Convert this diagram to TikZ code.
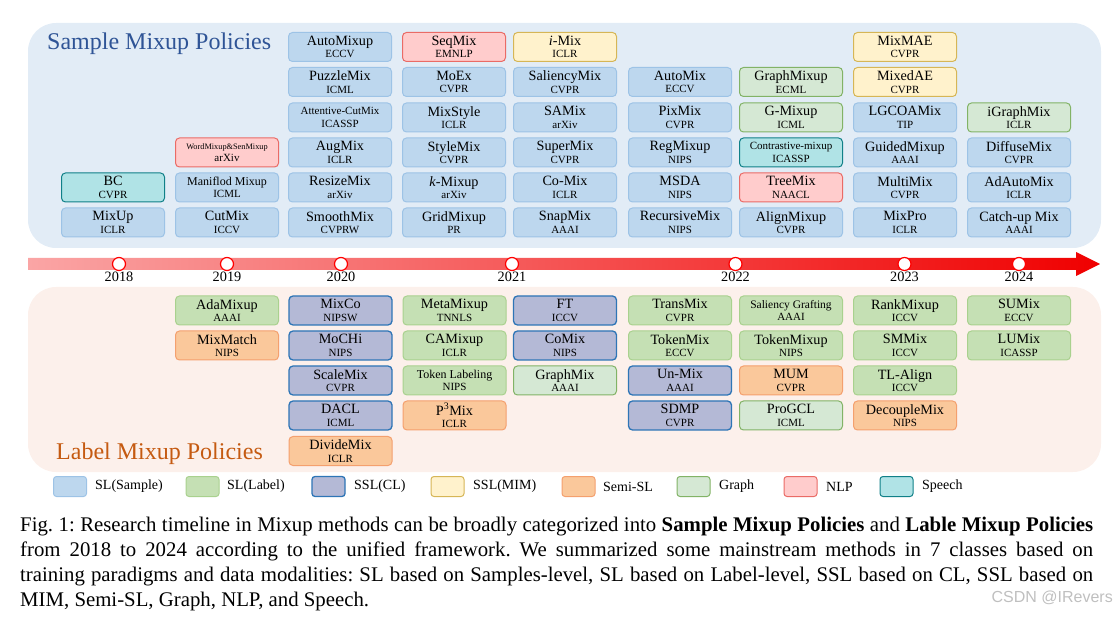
\documentclass[tikz,border=0pt]{standalone}
\usepackage{fontspec}
\setmainfont{Liberation Serif}
\newfontfamily\markfont{Liberation Sans}
\usetikzlibrary{positioning}

% colours of the classes
\definecolor{samplefill}{RGB}{189,215,238}
\definecolor{sampledraw}{RGB}{157,195,230}
\definecolor{labelfill}{RGB}{197,224,180}
\definecolor{labeldraw}{RGB}{169,209,142}
\definecolor{clfill}{RGB}{180,185,214}
\definecolor{cldraw}{RGB}{46,117,182}
\definecolor{mimfill}{RGB}{255,242,204}
\definecolor{mimdraw}{RGB}{214,182,86}
\definecolor{semifill}{RGB}{250,200,155}
\definecolor{semidraw}{RGB}{244,160,110}
\definecolor{graphfill}{RGB}{213,232,212}
\definecolor{graphdraw}{RGB}{130,179,102}
\definecolor{nlpfill}{RGB}{255,204,204}
\definecolor{nlpdraw}{RGB}{234,107,102}
\definecolor{speechfill}{RGB}{176,227,230}
\definecolor{speechdraw}{RGB}{16,128,136}
% panels and titles
\definecolor{toppanel}{RGB}{226,236,246}
\definecolor{botpanel}{RGB}{252,240,235}
\definecolor{toptitle}{RGB}{47,84,150}
\definecolor{bottitle}{RGB}{197,90,17}
\definecolor{barleft}{RGB}{250,165,165}
\definecolor{barright}{RGB}{240,0,0}

\newcommand{\namefont}{\fontsize{14.2}{12.6}\selectfont}
\newcommand{\smallname}{\fontsize{11.5}{12.6}\selectfont}
\newcommand{\venuefont}{\fontsize{11}{12.6}\selectfont}
\newcommand{\capfont}{\fontsize{20.8}{24.8}\selectfont\frenchspacing\hyphenpenalty10000\relax}
\newcommand{\mixnode}[6]{\node[#1] (#2) at (#3,#4) {#5\\{\venuefont #6}};}

\tikzset{
  method/.style={rounded corners=4pt, line width=1pt, minimum width=103pt,
    minimum height=29pt, inner sep=0pt, align=center, font=\namefont},
  sample/.style={method, fill=samplefill, draw=sampledraw},
  slabel/.style={method, fill=labelfill, draw=labeldraw},
  sslcl/.style={method, fill=clfill, draw=cldraw, line width=1.3pt},
  sslmim/.style={method, fill=mimfill, draw=mimdraw},
  semi/.style={method, fill=semifill, draw=semidraw},
  graph/.style={method, fill=graphfill, draw=graphdraw},
  nlp/.style={method, fill=nlpfill, draw=nlpdraw},
  speech/.style={method, fill=speechfill, draw=speechdraw},
  yeardot/.style={circle, draw=red, fill=white, line width=1.2pt,
    minimum size=13pt, inner sep=0pt, label distance=3pt},
  yeartext/.style={font=\fontsize{14.3}{14}\selectfont, inner sep=1pt},
  swatch/.style={minimum width=33pt, minimum height=20pt, inner sep=0pt,
    rounded corners=3pt},
  legendtext/.style={font=\fontsize{14}{14}\selectfont, inner sep=0pt},
  caption/.style={text width=1073pt, align=justify, inner sep=0pt,
    font=\capfont}
}

\begin{document}
\begin{tikzpicture}[x=1pt, y=-1pt]
  \useasboundingbox (0,0) rectangle (1114,617);

  % Draw the two panels
  \fill[toppanel, rounded corners=28pt] (28,23) rectangle (1101,248);
  \fill[botpanel, rounded corners=28pt] (28,287) rectangle (1101,472);

  % Panel titles
  \node[anchor=base west, inner sep=0pt, text=toptitle,
    font=\fontsize{24}{24}\selectfont] (toptitle) at (47,49.5) {Sample Mixup Policies};
  \node[anchor=base west, inner sep=0pt, text=bottitle,
    font=\fontsize{24}{24}\selectfont] (bottitle) at (56,460) {Label Mixup Policies};

  % Sample mixup policies, 2018
  \mixnode{speech}{BC}{113}{187.5}{BC}{CVPR}
  \mixnode{sample}{MixUp}{113}{222.5}{MixUp}{ICLR}
  % 2019
  \mixnode{nlp, font=\fontsize{8.3}{11.7}\selectfont}{WordMixup}{227}{152.5}{WordMixup\&SenMixup}{arXiv}
  \mixnode{sample, font=\fontsize{12}{12.6}\selectfont}{Maniflod}{227}{187.5}{Maniflod Mixup}{ICML}
  \mixnode{sample}{CutMix}{227}{222.5}{CutMix}{ICCV}
  % 2020
  \mixnode{sample}{AutoMixup}{340}{47}{AutoMixup}{ECCV}
  \mixnode{sample}{PuzzleMix}{340}{82}{PuzzleMix}{ICML}
  \mixnode{sample, font=\fontsize{11}{12.6}\selectfont}{Attentive}{340}{117.5}{Attentive-CutMix}{ICASSP}
  \mixnode{sample}{AugMix}{340}{152.5}{AugMix}{ICLR}
  \mixnode{sample}{ResizeMix}{340}{187.5}{ResizeMix}{arXiv}
  \mixnode{sample}{SmoothMix}{340}{222.5}{SmoothMix}{CVPRW}
  \mixnode{nlp}{SeqMix}{454}{47}{SeqMix}{EMNLP}
  \mixnode{sample}{MoEx}{454}{82}{MoEx}{CVPR}
  \mixnode{sample}{MixStyle}{454}{117.5}{MixStyle}{ICLR}
  \mixnode{sample}{StyleMix}{454}{152.5}{StyleMix}{CVPR}
  \mixnode{sample}{kMixup}{454}{187.5}{\textit{k}-Mixup}{arXiv}
  \mixnode{sample}{GridMixup}{454}{222.5}{GridMixup}{PR}
  % 2021
  \mixnode{sslmim}{iMix}{565}{47}{\textit{i}-Mix}{ICLR}
  \mixnode{sample}{SaliencyMix}{565}{82}{SaliencyMix}{CVPR}
  \mixnode{sample}{SAMix}{565}{117.5}{SAMix}{arXiv}
  \mixnode{sample}{SuperMix}{565}{152.5}{SuperMix}{CVPR}
  \mixnode{sample}{CoMixS}{565}{187.5}{Co-Mix}{ICLR}
  \mixnode{sample}{SnapMix}{565}{222.5}{SnapMix}{AAAI}
  \mixnode{sample}{AutoMix}{680}{82}{AutoMix}{ECCV}
  \mixnode{sample}{PixMix}{680}{117.5}{PixMix}{CVPR}
  \mixnode{sample}{RegMixup}{680}{152.5}{RegMixup}{NIPS}
  \mixnode{sample}{MSDA}{680}{187.5}{MSDA}{NIPS}
  \mixnode{sample}{RecursiveMix}{680}{222.5}{RecursiveMix}{NIPS}
  % 2022
  \mixnode{graph}{GraphMixup}{791}{82}{GraphMixup}{ECML}
  \mixnode{graph}{GMixup}{791}{117.5}{G-Mixup}{ICML}
  \mixnode{speech, font=\fontsize{11}{12.6}\selectfont}{Contrastive}{791}{152.5}{Contrastive-mixup}{ICASSP}
  \mixnode{nlp}{TreeMix}{791}{187.5}{TreeMix}{NAACL}
  \mixnode{sample}{AlignMixup}{791}{222.5}{AlignMixup}{CVPR}
  % 2023
  \mixnode{sslmim}{MixMAE}{905}{47}{MixMAE}{CVPR}
  \mixnode{sslmim}{MixedAE}{905}{82}{MixedAE}{CVPR}
  \mixnode{sample}{LGCOAMix}{905}{117.5}{LGCOAMix}{TIP}
  \mixnode{sample}{GuidedMixup}{905}{152.5}{GuidedMixup}{AAAI}
  \mixnode{sample}{MultiMix}{905}{187.5}{MultiMix}{CVPR}
  \mixnode{sample}{MixPro}{905}{222.5}{MixPro}{ICLR}
  % 2024
  \mixnode{graph}{iGraphMix}{1019}{117.5}{iGraphMix}{ICLR}
  \mixnode{sample}{DiffuseMix}{1019}{152.5}{DiffuseMix}{CVPR}
  \mixnode{sample}{AdAutoMix}{1019}{187.5}{AdAutoMix}{ICLR}
  \mixnode{sample}{CatchupMix}{1019}{222.5}{Catch-up Mix}{AAAI}

  % Draw the timeline arrow
  \shade[left color=barleft, right color=barright]
    (28,258) -- (1076,258) -- (1076,252) -- (1100,264) -- (1076,276)
    -- (1076,270) -- (28,270) -- cycle;

  % Place the years
  \node[yeardot, label={[yeartext]below:2018}] (y2018) at (119,264) {};
  \node[yeardot, label={[yeartext]below:2019}] (y2019) at (227,264) {};
  \node[yeardot, label={[yeartext]below:2020}] (y2020) at (341,264) {};
  \node[yeardot, label={[yeartext]below:2021}] (y2021) at (512,264) {};
  \node[yeardot, label={[yeartext]below:2022}] (y2022) at (735.5,264) {};
  \node[yeardot, label={[yeartext]below:2023}] (y2023) at (904.5,264) {};
  \node[yeardot, label={[yeartext]below:2024}] (y2024) at (1019,264) {};

  % Label mixup policies, 2019
  \mixnode{slabel}{AdaMixup}{227}{310.5}{AdaMixup}{AAAI}
  \mixnode{semi}{MixMatch}{227}{345.5}{MixMatch}{NIPS}
  % 2020
  \mixnode{sslcl}{MixCo}{340.5}{310.5}{MixCo}{NIPSW}
  \mixnode{sslcl}{MoCHi}{340.5}{345.5}{MoCHi}{NIPS}
  \mixnode{sslcl}{ScaleMix}{340.5}{380.5}{ScaleMix}{CVPR}
  \mixnode{sslcl}{DACL}{340.5}{415.5}{DACL}{ICML}
  \mixnode{semi}{DivideMix}{340.5}{451}{DivideMix}{ICLR}
  \mixnode{slabel}{MetaMixup}{454.5}{310.5}{MetaMixup}{TNNLS}
  \mixnode{slabel}{CAMixup}{454.5}{345.5}{CAMixup}{ICLR}
  \mixnode{slabel, font=\fontsize{12}{12.6}\selectfont}{TokenLabeling}{454.5}{380.5}{Token Labeling}{NIPS}
  \mixnode{semi}{PMix}{454.5}{415.5}{P\textsuperscript{3}Mix}{ICLR}
  % 2021
  \mixnode{sslcl}{FT}{565}{310.5}{FT}{ICCV}
  \mixnode{sslcl}{CoMix}{565}{345.5}{CoMix}{NIPS}
  \mixnode{graph}{GraphMix}{565}{380.5}{GraphMix}{AAAI}
  \mixnode{slabel}{TransMix}{680}{310.5}{TransMix}{CVPR}
  \mixnode{slabel}{TokenMix}{680}{345.5}{TokenMix}{ECCV}
  \mixnode{sslcl}{UnMix}{680}{380.5}{Un-Mix}{AAAI}
  \mixnode{sslcl}{SDMP}{680}{415.5}{SDMP}{CVPR}
  % 2022
  \mixnode{slabel, font=\fontsize{11.5}{12.6}\selectfont}{Grafting}{791}{310.5}{Saliency Grafting}{AAAI}
  \mixnode{slabel}{TokenMixup}{791}{345.5}{TokenMixup}{NIPS}
  \mixnode{semi}{MUM}{791}{380.5}{MUM}{CVPR}
  \mixnode{graph}{ProGCL}{791}{415.5}{ProGCL}{ICML}
  % 2023
  \mixnode{slabel}{RankMixup}{905}{310.5}{RankMixup}{ICCV}
  \mixnode{slabel}{SMMix}{905}{345.5}{SMMix}{ICCV}
  \mixnode{slabel}{TLAlign}{905}{380.5}{TL-Align}{ICCV}
  \mixnode{semi}{DecoupleMix}{905}{415.5}{DecoupleMix}{NIPS}
  % 2024
  \mixnode{slabel}{SUMix}{1019}{310.5}{SUMix}{ECCV}
  \mixnode{slabel}{LUMix}{1019}{345.5}{LUMix}{ICASSP}

  % Legend
  \node[swatch, fill=samplefill, draw=sampledraw, line width=1pt] (kSample) at (70,486.5) {};
  \node[legendtext, anchor=west] (tSample) at (95,486.5) {SL(Sample)};
  \node[swatch, fill=labelfill, draw=labeldraw, line width=1pt] (kLabel) at (202.5,486.5) {};
  \node[legendtext, anchor=west] (tLabel) at (227,486.5) {SL(Label)};
  \node[swatch, fill=clfill, draw=cldraw, line width=1.3pt] (kCL) at (328.5,486.5) {};
  \node[legendtext, anchor=west] (tCL) at (354,486.5) {SSL(CL)};
  \node[swatch, fill=mimfill, draw=mimdraw, line width=1pt] (kMIM) at (447.5,486.5) {};
  \node[legendtext, anchor=west] (tMIM) at (473,486.5) {SSL(MIM)};
  \node[swatch, fill=semifill, draw=semidraw, line width=1pt] (kSemi) at (578.5,486.5) {};
  \node[legendtext, anchor=west] (tSemi) at (603,486.5) {Semi-SL};
  \node[swatch, fill=graphfill, draw=graphdraw, line width=1pt] (kGraph) at (693.5,486.5) {};
  \node[legendtext, anchor=west] (tGraph) at (719,486.5) {Graph};
  \node[swatch, fill=nlpfill, draw=nlpdraw, line width=1pt] (kNLP) at (800.5,486.5) {};
  \node[legendtext, anchor=west] (tNLP) at (826,486.5) {NLP};
  \node[swatch, fill=speechfill, draw=speechdraw, line width=1pt] (kSpeech) at (896.5,486.5) {};
  \node[legendtext, anchor=west] (tSpeech) at (922,486.5) {Speech};

  % Caption
  \node[caption, anchor=north west] (caption) at (20,517) {Fig.~1: Research timeline in Mixup methods can be broadly categorized into \textbf{Sample Mixup Policies} and \textbf{Lable Mixup Policies}\linebreak from 2018 to 2024 according to the unified framework. We summarized some mainstream methods in 7 classes based on\linebreak training paradigms and data modalities: SL based on Samples-level, SL based on Label-level, SSL based on CL, SSL based on\linebreak MIM, Semi-SL, Graph, NLP, and Speech.};

  % Watermark
  \node[anchor=east, inner sep=0pt, text=black!25,
    font=\markfont\fontsize{16}{16}\selectfont] (mark) at (1113,598) {CSDN @IRevers};
\end{tikzpicture}
\end{document}
